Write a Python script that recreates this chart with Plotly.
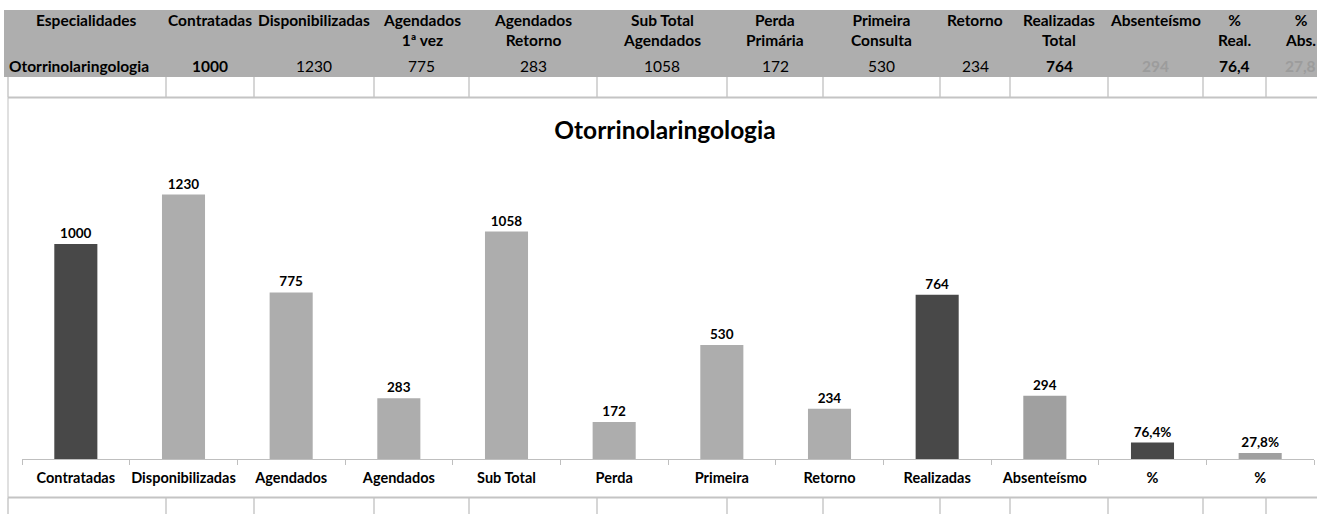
import plotly.graph_objects as go

W, H = 1317, 514

# ---------------- data ----------------
specialty = "Otorrinolaringologia"
categories = ["Contratadas", "Disponibilizadas", "Agendados", "Agendados", "Sub Total", "Perda",
              "Primeira", "Retorno", "Realizadas", "Absenteísmo", "%", "%"]
values = [1000, 1230, 775, 283, 1058, 172, 530, 234, 764, 294, 76.4, 27.8]
value_labels = ["1000", "1230", "775", "283", "1058", "172", "530", "234", "764", "294", "76,4%", "27,8%"]
table_headers = ["Especialidades", "Contratadas", "Disponibilizadas", "Agendados<br>1ª vez",
                 "Agendados<br>Retorno", "Sub Total<br>Agendados", "Perda<br>Primária",
                 "Primeira<br>Consulta", "Retorno", "Realizadas<br>Total", "Absenteísmo",
                 "%<br>Real.", "%<br>Abs."]
table_row = ["1000", "1230", "775", "283", "1058", "172", "530", "234", "764", "294", "76,4", "27,8"]

# ---------------- styles ----------------
FONT = "Lato"
DARK = "#484848"
LIGHT = "#ADADAD"
MID = "#A0A0A0"
bar_colors = [DARK, LIGHT, LIGHT, LIGHT, LIGHT, LIGHT, LIGHT, LIGHT, DARK, MID, DARK, MID]
row_bold = [True, False, False, False, False, False, False, False, True, True, True, True]
row_color = ["#000", "#000", "#000", "#000", "#000", "#000", "#000", "#000", "#000", "#9C9C9C", "#000", "#9C9C9C"]

col_edges = [5, 166, 254, 374, 469, 597, 727, 823, 940, 1010, 1108, 1203, 1266, 1334]
TFS = 15.5  # table font size


def px(x):
    return x / W


def py(y):
    return 1 - y / H


fig = go.Figure()
xs = list(range(len(categories)))
fig.add_trace(go.Bar(
    x=xs, y=values, marker=dict(color=bar_colors, line=dict(width=0)),
    text=value_labels, textposition="outside", cliponaxis=False,
    textfont=dict(family=FONT, size=13.5, color="#000", weight="bold"),
    width=0.4, hoverinfo="skip",
))

shapes = []
annotations = []

# table header band
shapes.append(dict(type="rect", xref="paper", yref="paper", x0=px(4), x1=px(W + 2), y0=py(77), y1=py(10),
                   fillcolor="#AEAEAE", line=dict(width=0), layer="below"))
# grid lines of the sheet
GRID = "#D6D6D6"
for e in col_edges[:-1]:
    xe = 8 if e == 5 else e
    shapes.append(dict(type="line", xref="paper", yref="paper", x0=px(xe), x1=px(xe), y0=py(77), y1=py(97),
                       line=dict(color=GRID, width=2)))
    shapes.append(dict(type="line", xref="paper", yref="paper", x0=px(xe), x1=px(xe), y0=py(498), y1=py(514),
                       line=dict(color=GRID, width=2)))
shapes.append(dict(type="line", xref="paper", yref="paper", x0=px(8), x1=px(8), y0=py(97), y1=py(498),
                   line=dict(color="#E0E0E0", width=2)))
for yl in (97.5, 497.5):
    shapes.append(dict(type="line", xref="paper", yref="paper", x0=px(8), x1=px(W + 2), y0=py(yl), y1=py(yl),
                       line=dict(color="#C4C4C4", width=2)))

# table header texts
for i, h in enumerate(table_headers):
    cx = (col_edges[i] + col_edges[i + 1]) / 2
    annotations.append(dict(xref="paper", yref="paper", x=px(cx), y=py(9), yanchor="top", xanchor="center",
                            text=h, showarrow=False, align="center",
                            font=dict(family=FONT, size=TFS, color="#000", weight="bold")))
# table data row
annotations.append(dict(xref="paper", yref="paper", x=px(7), y=py(66), xanchor="left", yanchor="middle",
                        text=specialty, showarrow=False,
                        font=dict(family=FONT, size=TFS, color="#000", weight="bold")))
for i, t in enumerate(table_row):
    cx = (col_edges[i + 1] + col_edges[i + 2]) / 2
    annotations.append(dict(xref="paper", yref="paper", x=px(cx), y=py(66), xanchor="center", yanchor="middle",
                            text=t, showarrow=False,
                            font=dict(family=FONT, size=TFS, color=row_color[i],
                                      weight="bold" if row_bold[i] else "normal")))

fig.update_layout(
    width=W, height=H, margin=dict(l=0, r=0, t=0, b=0),
    paper_bgcolor="white", plot_bgcolor="white", showlegend=False,
    title=dict(text=specialty, x=px(665), xanchor="center", y=py(130), yanchor="middle",
               font=dict(family=FONT, size=24.5, color="#000", weight="bold")),
    shapes=shapes, annotations=annotations,
    xaxis=dict(domain=[px(22), px(1314)], range=[-0.5, len(categories) - 0.5],
               tickvals=xs, ticktext=categories, ticks="", showgrid=False, zeroline=False,
               showline=True, linecolor="#BFBFBF", linewidth=1,
               ticklabelstandoff=6,
               tickfont=dict(family=FONT, size=14.5, color="#000", weight="bold"),
               minor=dict(tickvals=[i - 0.5 for i in range(len(categories) + 1)], ticks="outside",
                          ticklen=5, tickcolor="#BFBFBF", tickwidth=1, showgrid=False)),
    yaxis=dict(domain=[py(459), py(158)], range=[0, 1400], visible=False),
    font=dict(family=FONT),
)

fig.write_html("out.html",
               config={"displayModeBar": False},
               post_script="document.body.style.margin='0';document.body.style.padding='0';"
                           "document.body.style.overflow='hidden';")
